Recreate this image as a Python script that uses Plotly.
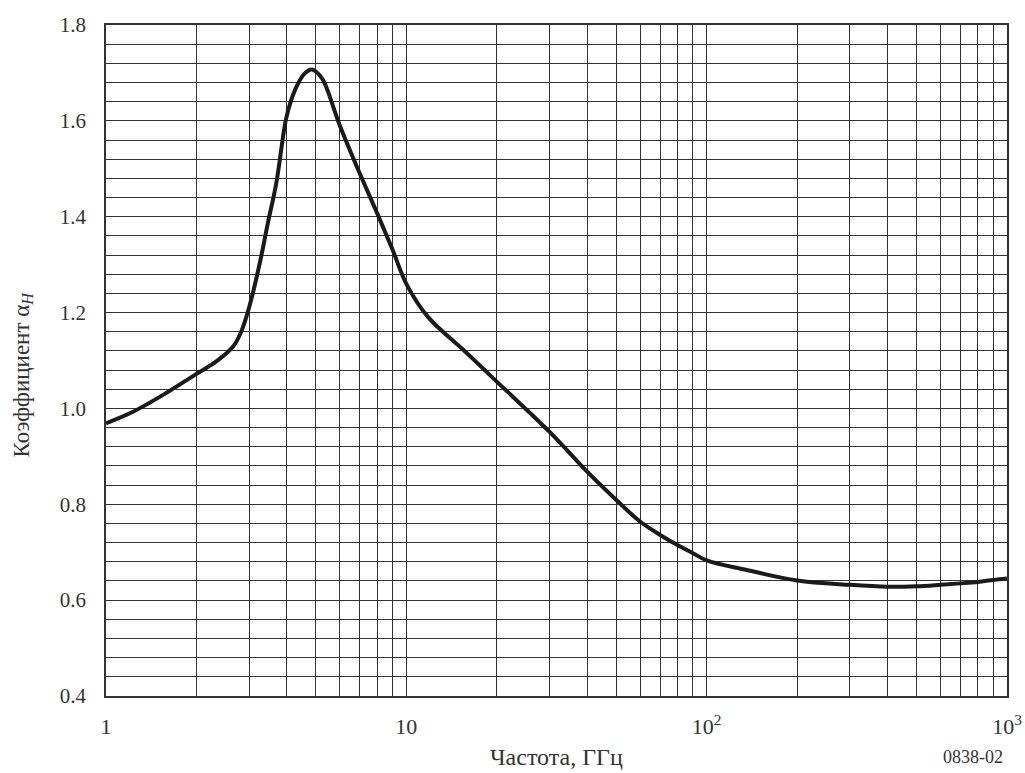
import numpy as np
import plotly.graph_objects as go

# Curve data
freq_ghz = [1, 1.23, 1.585, 2, 2.33, 2.65, 2.82, 3, 3.25, 3.46, 3.69, 3.97, 4.14,
            4.36, 4.59, 4.83, 5, 5.28, 6, 7, 8, 9, 10, 11.8, 15.5, 20, 30, 40, 50,
            60, 70, 80, 90, 100, 136, 200, 300, 400, 500, 600, 700, 800, 900, 1000]
alpha_h = [0.969, 0.993, 1.032, 1.072, 1.098, 1.129, 1.16, 1.212, 1.303, 1.387, 1.47,
           1.602, 1.644, 1.678, 1.699, 1.707, 1.703, 1.685, 1.591, 1.49, 1.407, 1.331,
           1.26, 1.191, 1.122, 1.056, 0.951, 0.868, 0.809, 0.764, 0.736, 0.715, 0.698,
           0.683, 0.663, 0.641, 0.632, 0.628, 0.629, 0.632, 0.635, 0.638, 0.642, 0.645]

# Axis ticks / grid
x_major_vals = [1, 10, 100, 1000]
x_major_labels = ["1", "10", "10<sup>2</sup>", "10<sup>3</sup>"]
x_minor_vals = [m * 10 ** d for d in range(3) for m in range(2, 10)]
y_major_vals = [0.4, 0.6, 0.8, 1.0, 1.2, 1.4, 1.6, 1.8]
y_major_labels = ["0.4", "0.6", "0.8", "1.0", "1.2", "1.4", "1.6", "1.8"]
y_minor_vals = [round(0.4 + 0.04 * i, 2) for i in range(36) if i % 5 != 0]

FONT = "Liberation Serif"
GRID = "#333333"
TXT = "#333333"

fig = go.Figure()
fig.add_trace(go.Scatter(
    x=freq_ghz, y=alpha_h, mode="lines",
    line=dict(color="#1a1a1a", width=4, shape="spline", smoothing=1.0),
    showlegend=False, hoverinfo="skip",
))

fig.update_layout(
    width=1025, height=773,
    margin=dict(l=106, r=18, t=25, b=77, autoexpand=False),
    paper_bgcolor="white", plot_bgcolor="white",
    font=dict(family=FONT, size=22, color=TXT),
    xaxis=dict(
        type="log", range=[0, 3], automargin=False,
        tickmode="array", tickvals=x_major_vals, ticktext=x_major_labels,
        showgrid=True, gridcolor=GRID, gridwidth=1.4,
        minor=dict(tickmode="array", tickvals=x_minor_vals, showgrid=True,
                   gridcolor=GRID, gridwidth=1.4, ticks=""),
        showline=True, linecolor=GRID, linewidth=1.6, mirror=True,
        ticks="", ticklabelstandoff=10, zeroline=False,
        tickfont=dict(family=FONT, size=22, color=TXT),
    ),
    yaxis=dict(
        range=[0.4, 1.8], automargin=False,
        tickmode="array", tickvals=y_major_vals, ticktext=y_major_labels,
        showgrid=True, gridcolor=GRID, gridwidth=1.4,
        minor=dict(tickmode="array", tickvals=y_minor_vals, showgrid=True,
                   gridcolor=GRID, gridwidth=1.4, ticks=""),
        showline=True, linecolor=GRID, linewidth=1.6, mirror=True,
        ticks="", ticklabelstandoff=14, zeroline=False,
        tickfont=dict(family=FONT, size=21, color=TXT),
    ),
    annotations=[
        dict(text="Частота, ГГц", xref="paper", yref="paper", x=0.5, y=-0.0909,
             xanchor="center", yanchor="middle", showarrow=False,
             font=dict(family=FONT, size=24, color=TXT)),
        dict(text="0838-02", xref="paper", yref="paper", x=0.962, y=-0.0909,
             xanchor="center", yanchor="middle", showarrow=False,
             font=dict(family=FONT, size=18, color=TXT)),
        dict(text="Коэффициент α<sub><i>H</i></sub>", xref="paper", yref="paper",
             x=-0.0927, y=0.48, xanchor="center", yanchor="middle", textangle=-90,
             showarrow=False, font=dict(family=FONT, size=23, color=TXT)),
    ],
)

fig.write_html("out.html", config={"displayModeBar": False},
               post_script="document.body.style.margin='0';document.body.style.overflow='hidden';")
